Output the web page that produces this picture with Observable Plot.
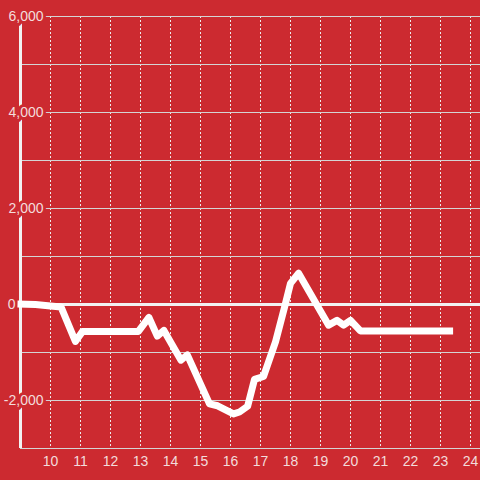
<!DOCTYPE html>
<html>
<head>
<meta charset="utf-8">
<script src="https://cdn.jsdelivr.net/npm/d3@7"></script>
<script src="https://cdn.jsdelivr.net/npm/@observablehq/plot@0.6"></script>
<style>
  html, body { margin: 0; padding: 0; background: #cc2a30; }
  #chart { width: 480px; height: 480px; }
</style>
</head>
<body>
<div id="chart"></div>
<script>
// Data
const hours  = [8.9, 9.5, 10.0, 10.35, 10.83, 11.07, 12.0, 12.93, 13.28, 13.56, 13.78, 14.35, 14.56, 15.3, 15.57, 16.1, 16.3, 16.57, 16.8, 17.1, 17.5, 17.8, 18.0, 18.27, 19.27, 19.55, 19.77, 20.0, 20.33, 21.0, 22.0, 23.42];
const values = [10, 0, -30, -50, -770, -560, -560, -560, -270, -660, -540, -1160, -1050, -2070, -2110, -2280, -2240, -2120, -1560, -1500, -780, -60, 440, 650, -430, -330, -430, -330, -550, -550, -550, -550];

const xTicks = [10, 11, 12, 13, 14, 15, 16, 17, 18, 19, 20, 21, 22, 23, 24];
const yGrid = [-3000, -2000, -1000, 0, 1000, 2000, 3000, 4000, 5000, 6000];
const yLabelValues = [6000, 4000, 2000, -2000];
const yLabelTexts = ["6,000", "4,000", "2,000", "-2,000"];
const zeroLabelValue = [0];
const zeroLabelText = ["0"];

const bg = "#cc2a30";
const textColor = "#f3dcdc";

const data = hours.map((h, i) => ({h, v: values[i]}));
const yLabels = yLabelValues.map((v, i) => ({v, t: yLabelTexts[i]}));
const zeroLabel = zeroLabelValue.map((v, i) => ({v, t: zeroLabelText[i]}));

const chart = Plot.plot({
  width: 480,
  height: 480,
  marginTop: 16,
  marginBottom: 32,
  marginLeft: 20,
  marginRight: 0,
  style: {background: bg, color: textColor, fontFamily: "'Liberation Sans', Arial, sans-serif", fontSize: "14px", overflow: "visible"},
  x: {domain: [9, 24.333], axis: null},
  y: {domain: [-3000, 6000], axis: null},
  marks: [
    Plot.gridX(xTicks, {stroke: "#ececec", strokeOpacity: 1, strokeDasharray: "2,2"}),
    Plot.gridY(yGrid, {stroke: "#d4d4d4", strokeOpacity: 1}),
    Plot.ruleX([9], {stroke: "#f2f2f2", strokeWidth: 3}),
    Plot.text(yLabels, {x: () => 9, y: "v", text: "t", textAnchor: "end", dx: 23, fill: textColor, stroke: bg, strokeWidth: 6, fontSize: 14}),
    Plot.text(zeroLabel, {x: () => 9, y: "v", text: "t", textAnchor: "end", dx: -5, fill: textColor, stroke: bg, strokeWidth: 6, fontSize: 14}),
    Plot.ruleY([0], {stroke: "#f2f2f2", strokeWidth: 3}),
    Plot.line(data, {x: "h", y: "v", stroke: "#ffffff", strokeWidth: 7, strokeLinecap: "butt", strokeLinejoin: "round"}),
    Plot.axisX(xTicks, {tickSize: 0, tickPadding: 8, fontSize: 14, fill: textColor, label: null})
  ]
});
document.getElementById("chart").appendChild(chart);
</script>
</body>
</html>
